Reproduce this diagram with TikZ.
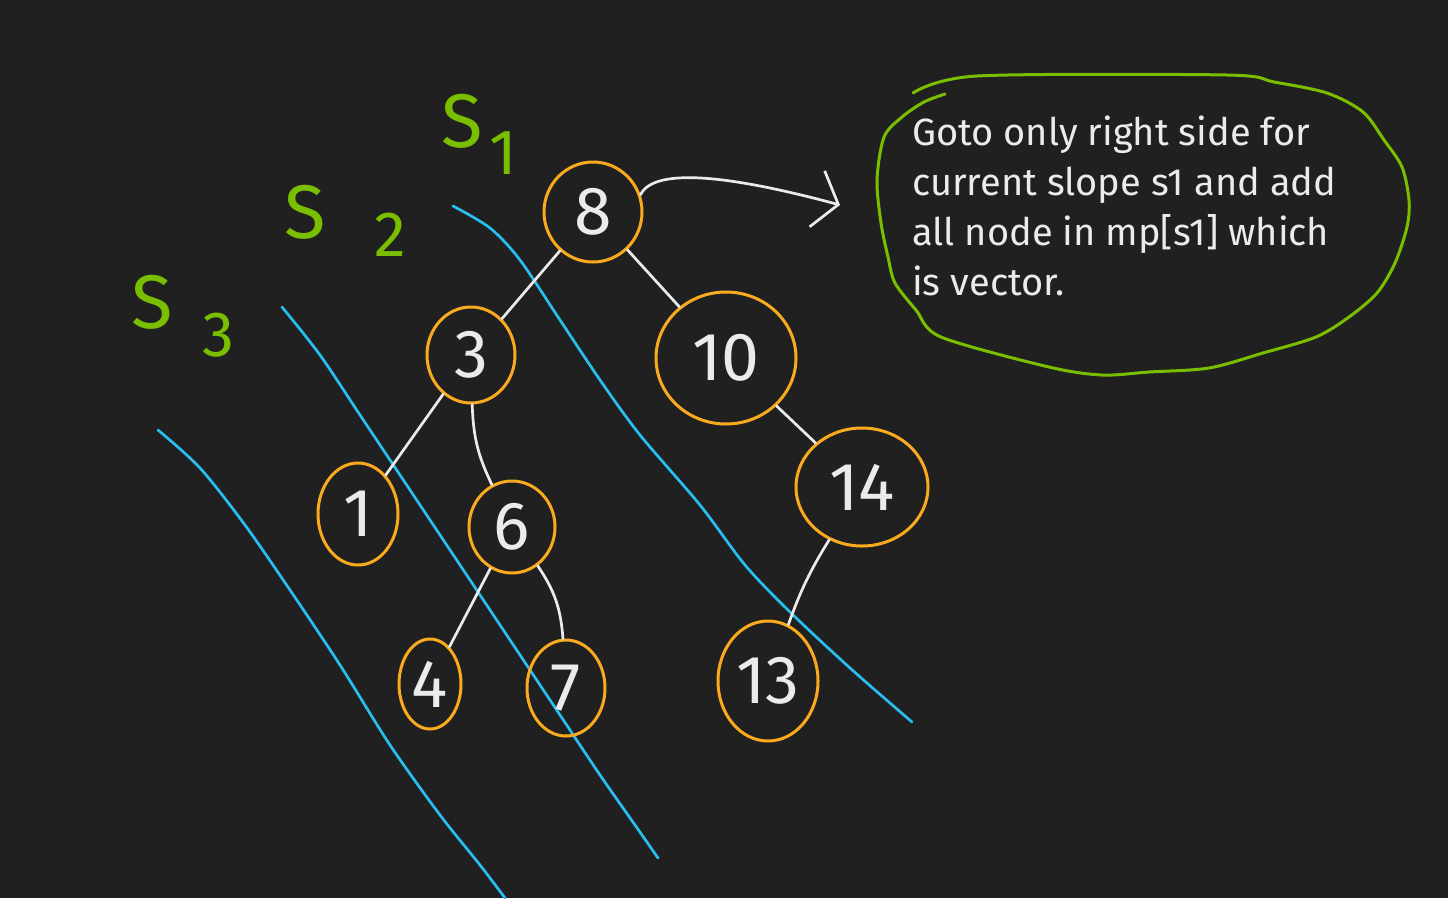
\documentclass[tikz,border=0pt]{standalone}
\usepackage{fontspec}
\setmainfont{Fira Sans}
\usetikzlibrary{shapes.geometric, arrows.meta, positioning}

\definecolor{boardbg}{RGB}{32,32,32}
\definecolor{penorange}{RGB}{250,170,30}
\definecolor{pengreen}{RGB}{122,190,0}
\definecolor{penblue}{RGB}{40,190,240}
\definecolor{penwhite}{RGB}{235,235,235}

\tikzset{
  tnode/.style={ellipse, draw=penorange, line width=3pt, inner sep=0pt,
    text=penwhite, font=\fontsize{68}{68}\selectfont},
  edge/.style={draw=penwhite, line width=2.7pt},
  slopeline/.style={draw=penblue, line width=2.7pt},
  slabel/.style={text=pengreen, inner sep=0pt, font=\fontsize{76}{76}\selectfont},
  sindex/.style={text=pengreen, inner sep=0pt, font=\fontsize{64}{64}\selectfont}
}

\begin{document}
\begin{tikzpicture}[x=1pt, y=-1pt, line cap=round, line join=round]
  % board
  \useasboundingbox (0,0) rectangle (1448,898);
  \fill[boardbg] (0,0) rectangle (1448,898);

  % slope lines
  \draw[slopeline] plot[smooth] coordinates {(453,206) (490,228) (520,260) (560,320)
    (600,380) (640,435) (700,505) (745,565) (790,612) (850,668) (912,722)};
  \draw[slopeline] plot[smooth] coordinates {(282,307) (320,355) (360,415) (400,475)
    (440,535) (480,595) (520,655) (560,715) (600,775) (635,825) (658,858)};
  \draw[slopeline] plot[smooth] coordinates {(158,430) (200,468) (245,525) (290,590)
    (340,665) (390,745) (440,815) (480,865) (505,898)};

  % slope names
  \node[slabel] (s1) at (462,121) {S};
  \node[sindex] (i1) at (503,153) {1};
  \node[slabel] (s2) at (305,212) {S};
  \node[sindex] (i2) at (390,235) {2};
  \node[slabel] (s3) at (152,302) {S};
  \node[sindex] (i3) at (218,335) {3};

  % tree
  \node[tnode, minimum width=98pt, minimum height=100pt] (n8) at (593,212) {8};
  \node[tnode, minimum width=88pt, minimum height=96pt] (n3) at (471,355) {3};
  \node[tnode, minimum width=140pt, minimum height=132pt] (n10) at (726,358) {10};
  \node[tnode, minimum width=132pt, minimum height=118pt] (n14) at (862,487) {14};
  \node[tnode, minimum width=80pt, minimum height=102pt] (n1) at (358,514) {1};
  \node[tnode, minimum width=86pt, minimum height=92pt] (n6) at (512,527) {6};
  \node[tnode, minimum width=62pt, minimum height=90pt] (n4) at (430,684) {4};
  \node[tnode, minimum width=78pt, minimum height=96pt] (n7) at (566,688) {7};
  \node[tnode, minimum width=100pt, minimum height=120pt] (n13) at (768,681) {13};

  \draw[edge] (n8) -- (n3);
  \draw[edge] (n8) -- (n10);
  \draw[edge] (n3) -- (n1);
  \draw[edge] (n3) to[bend right=12] (n6);
  \draw[edge] (n6) -- (n4);
  \draw[edge] (n6) to[bend left=15] (n7);
  \draw[edge] (n10) -- (n14);
  \draw[edge] (n14) to[bend right=6] (n13);

  % note
  \coordinate (tip) at (840,205);
  \draw[edge, -{Straight Barb[length=22pt, width=58pt]}]
    (n8.20) .. controls (655,165) and (740,178) .. (tip);
  \node[anchor=north west, inner sep=0pt, align=left, text=penwhite,
    font=\fontsize{38}{50}\selectfont] (note) at (912,116)
    {Goto only right side for\\current slope s1 and add\\all node in mp[s1] which\\is vector.};
  \draw[pengreen, line width=3pt] plot[smooth] coordinates {(913,93) (977,76)
    (1227,75) (1274,82) (1327,93) (1363,112) (1384,140) (1402,167) (1409,200)
    (1407,227) (1395,263) (1377,293) (1349,317) (1316,337) (1263,353) (1209,368)
    (1149,372) (1102,375) (1049,367) (941,337) (916,310) (895,283) (888,257)
    (881,223) (877,180) (884,137) (902,117) (924,102) (945,94)};
\end{tikzpicture}
\end{document}
